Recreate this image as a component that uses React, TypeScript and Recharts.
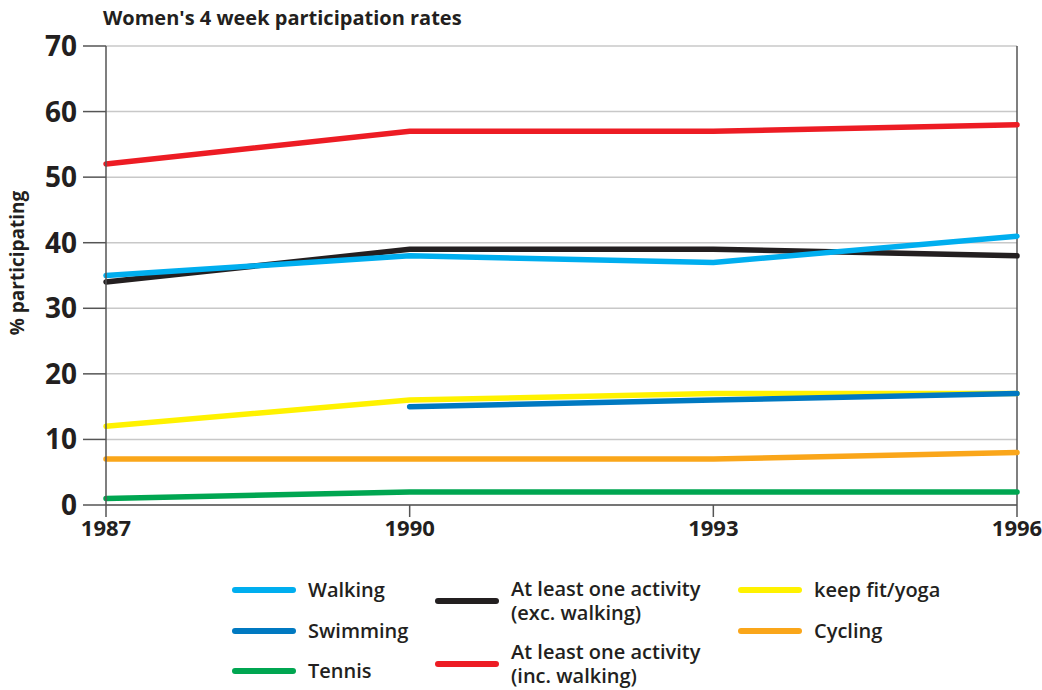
import React from "react";
import {
  CartesianGrid,
  Line,
  LineChart,
  ReferenceLine,
  XAxis,
  YAxis,
} from "recharts";

const years = [1987, 1990, 1993, 1996];
const walking = [35, 38, 37, 41];
const excWalking = [34, 39, 39, 38];
const incWalking = [52, 57, 57, 58];
const keepFit = [12, 16, 17, 17];
const swimming = [null, 15, 16, 17];
const cycling = [7, 7, 7, 8];
const tennis = [1, 2, 2, 2];
const yTicks = [0, 10, 20, 30, 40, 50, 60, 70];

const data = years.map((year, i) => ({
  year,
  walking: walking[i],
  excWalking: excWalking[i],
  incWalking: incWalking[i],
  keepFit: keepFit[i],
  swimming: swimming[i],
  cycling: cycling[i],
  tennis: tennis[i],
}));

const series = [
  { key: "incWalking", name: "At least one activity\n(inc. walking)", color: "#ed1c24" },
  { key: "excWalking", name: "At least one activity\n(exc. walking)", color: "#231f20" },
  { key: "walking", name: "Walking", color: "#00aeef" },
  { key: "keepFit", name: "keep fit/yoga", color: "#fff200" },
  { key: "swimming", name: "Swimming", color: "#0079c1" },
  { key: "cycling", name: "Cycling", color: "#faa61a" },
  { key: "tennis", name: "Tennis", color: "#00a651" },
];

const font = "'Open Sans', sans-serif";
const ink = "#231f20";

// legend slots: [key, left, centre y]
const legendSlots: Array<[string, number, number]> = [
  ["walking", 232, 590],
  ["swimming", 232, 631],
  ["tennis", 232, 671],
  ["excWalking", 435, 601],
  ["incWalking", 435, 664],
  ["keepFit", 738, 590],
  ["cycling", 738, 631],
];

function ChartLegend() {
  return (
    <div style={{ position: "absolute", left: 0, top: 0, width: 1042, height: 690, pointerEvents: "none" }}>
      {legendSlots.map(([key, left, cy]) => {
        const s = series.find((d) => d.key === key)!;
        return (
          <div
            key={key}
            style={{
              position: "absolute",
              left,
              top: cy - 30,
              height: 60,
              display: "flex",
              alignItems: "center",
            }}
          >
            <div
              style={{
                width: 64,
                height: 6,
                borderRadius: 3,
                background: s.color,
                marginRight: 12,
              }}
            />
            <div
              style={{
                whiteSpace: "pre-line",
                fontFamily: font,
                fontWeight: 600,
                fontSize: 20,
                lineHeight: "24px",
                color: ink,
              }}
            >
              {s.name}
            </div>
          </div>
        );
      })}
    </div>
  );
}

export default function App() {
  return (
    <div style={{ position: "absolute", left: 0, top: 0, width: 1042, height: 690, background: "#fff" }}>
      <div
        style={{
          position: "absolute",
          left: 103,
          top: 4,
          fontFamily: font,
          fontWeight: 700,
          fontSize: 20,
          lineHeight: "28px",
          color: ink,
        }}
      >
        Women's 4 week participation rates
      </div>
      <div
        style={{
          position: "absolute",
          left: 17,
          top: 263,
          transform: "translate(-50%, -50%) rotate(-90deg)",
          fontFamily: font,
          fontWeight: 700,
          fontSize: 19,
          color: ink,
          whiteSpace: "nowrap",
        }}
      >
        % participating
      </div>
      <LineChart
        width={1042}
        height={690}
        data={data}
        margin={{ top: 46, right: 25, bottom: 145, left: 0 }}
      >
        <CartesianGrid vertical={false} stroke="#c8c8c8" strokeWidth={1.5} />
        <XAxis
          dataKey="year"
          type="number"
          domain={[1987, 1996]}
          ticks={years}
          tickSize={12}
          tickMargin={3}
          stroke="#555"
          strokeWidth={1.5}
          height={40}
          tick={{ fill: ink, fontFamily: font, fontWeight: 700, fontSize: 22 }}
        />
        <YAxis
          domain={[0, 70]}
          ticks={yTicks}
          width={106}
          tickSize={23}
          tickMargin={6}
          stroke="#555"
          strokeWidth={1.5}
          tick={{ fill: ink, fontFamily: font, fontWeight: 700, fontSize: 28 }}
        />
        <ReferenceLine x={1996} stroke="#555" strokeWidth={1.5} />
        {series.map((s) => (
          <Line
            key={s.key}
            dataKey={s.key}
            name={s.name}
            stroke={s.color}
            strokeWidth={5.5}
            strokeLinecap="round"
            dot={false}
            activeDot={false}
            isAnimationActive={false}
          />
        ))}
      </LineChart>
      <ChartLegend />
    </div>
  );
}
